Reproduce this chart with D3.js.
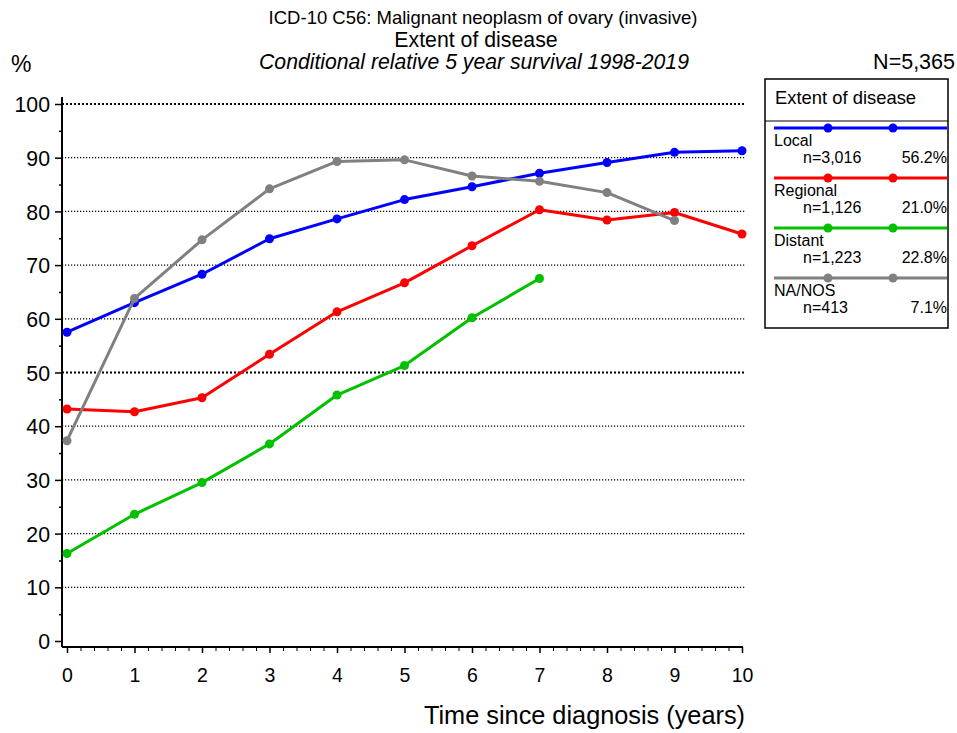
<!DOCTYPE html>
<html>
<head>
<meta charset="utf-8">
<script src="https://cdn.jsdelivr.net/npm/d3@7"></script>
<style>
  html, body { margin: 0; padding: 0; background: #fff; }
  svg { display: block; font-family: "Liberation Sans", Arial, sans-serif; }
</style>
</head>
<body>
<svg id="chart" width="957" height="733"></svg>
<script>
// Conditional relative 5-year survival by extent of disease
const years = [0, 1, 2, 3, 4, 5, 6, 7, 8, 9, 10];
const seriesNames = ["Local", "Regional", "Distant", "NA/NOS"];
const seriesColors = ["#0000ff", "#ff0000", "#00c000", "#808080"];
const localValues    = [57.5, 63.0, 68.3, 74.9, 78.6, 82.2, 84.6, 87.1, 89.1, 91.0, 91.3];
const regionalValues = [43.2, 42.7, 45.3, 53.4, 61.3, 66.7, 73.6, 80.3, 78.4, 79.8, 75.8];
const distantValues  = [16.3, 23.6, 29.5, 36.7, 45.8, 51.3, 60.2, 67.5];
const nanosValues    = [37.3, 63.8, 74.7, 84.2, 89.3, 89.6, 86.6, 85.6, 83.5, 78.3];
const seriesCounts   = ["n=3,016", "n=1,126", "n=1,223", "n=413"];
const seriesShares   = ["56.2%", "21.0%", "22.8%", "7.1%"];
const yTicks = [0, 10, 20, 30, 40, 50, 60, 70, 80, 90, 100];
const xTicks = [0, 1, 2, 3, 4, 5, 6, 7, 8, 9, 10];

const seriesValues = [localValues, regionalValues, distantValues, nanosValues];

const svg = d3.select("#chart");
const x = d3.scaleLinear().domain([0, 10]).range([67, 742]);
const y = d3.scaleLinear().domain([0, 100]).range([641, 104]);
const axisX = 62, axisY = 647;

// Titles
svg.append("text").attr("x", 483).attr("y", 24).attr("text-anchor", "middle")
  .attr("font-size", 18.5).text("ICD-10 C56: Malignant neoplasm of ovary (invasive)");
svg.append("text").attr("x", 476).attr("y", 47).attr("text-anchor", "middle")
  .attr("font-size", 21.3).text("Extent of disease");
svg.append("text").attr("x", 474).attr("y", 69).attr("text-anchor", "middle")
  .attr("font-size", 21.2).attr("font-style", "italic")
  .text("Conditional relative 5 year survival 1998-2019");
svg.append("text").attr("x", 11).attr("y", 72).attr("font-size", 23).text("%");
svg.append("text").attr("x", 955).attr("y", 69).attr("text-anchor", "end")
  .attr("font-size", 21.5).text("N=5,365");

// Horizontal dotted gridlines
svg.append("g").selectAll("line").data(yTicks.filter(d => d > 0)).join("line")
  .attr("x1", axisX).attr("x2", 745)
  .attr("y1", d => y(d)).attr("y2", d => y(d))
  .attr("stroke", "#000")
  .attr("stroke-width", d => d % 50 === 0 ? 2 : 1.2)
  .attr("stroke-dasharray", d => d % 50 === 0 ? "2,2" : "1.2,1.8");

// Y axis
const yAxis = d3.axisLeft(y).tickValues(yTicks).tickSize(7).tickPadding(5);
const gy = svg.append("g").attr("transform", `translate(${axisX},0)`).call(yAxis);
gy.select(".domain").remove();
gy.selectAll(".tick text").attr("font-size", 21.3).attr("font-family", "Liberation Sans, Arial, sans-serif").attr("fill", "#000").attr("dy", "0.36em");
gy.selectAll(".tick line").attr("stroke-width", 1.5);
const yMinor = d3.axisLeft(y).tickValues(d3.range(5, 100, 10)).tickSize(3).tickFormat("");
const gym = svg.append("g").attr("transform", `translate(${axisX},0)`).call(yMinor);
gym.select(".domain").remove();
gym.selectAll(".tick line").attr("stroke-width", 1.5);
svg.append("line").attr("x1", axisX).attr("x2", axisX).attr("y1", 97).attr("y2", axisY)
  .attr("stroke", "#000").attr("stroke-width", 2);

// X axis
const xAxis = d3.axisBottom(x).tickValues(xTicks).tickSize(6).tickPadding(15);
const gx = svg.append("g").attr("transform", `translate(0,${axisY})`).call(xAxis);
gx.select(".domain").remove();
gx.selectAll(".tick text").attr("font-size", 19.5).attr("font-family", "Liberation Sans, Arial, sans-serif").attr("fill", "#000");
gx.selectAll(".tick line").attr("stroke-width", 1.5);
const xMinor = d3.axisBottom(x).tickValues(d3.range(0, 50).map(i => i * 0.2).filter(v => Math.abs(v - Math.round(v)) > 1e-6)).tickSize(4).tickFormat("");
const gxm = svg.append("g").attr("transform", `translate(0,${axisY})`).call(xMinor);
gxm.select(".domain").remove();
gxm.selectAll(".tick line").attr("stroke-width", 1);
svg.append("line").attr("x1", axisX).attr("x2", 743).attr("y1", axisY).attr("y2", axisY)
  .attr("stroke", "#000").attr("stroke-width", 2);

svg.append("text").attr("x", 745).attr("y", 724).attr("text-anchor", "end")
  .attr("font-size", 25.3).text("Time since diagnosis (years)");

// Series lines and markers
const line = d3.line().x((d, i) => x(years[i])).y(d => y(d));
seriesValues.forEach((vals, s) => {
  const g = svg.append("g");
  g.append("path").datum(vals).attr("d", line)
    .attr("fill", "none").attr("stroke", seriesColors[s]).attr("stroke-width", 3)
    .attr("stroke-linejoin", "round");
  g.selectAll("circle").data(vals).join("circle")
    .attr("cx", (d, i) => x(years[i])).attr("cy", d => y(d)).attr("r", 4.5)
    .attr("fill", seriesColors[s]);
});

// Legend
const lg = svg.append("g");
lg.append("rect").attr("x", 765).attr("y", 79).attr("width", 183).attr("height", 249)
  .attr("fill", "#fff").attr("stroke", "#000").attr("stroke-width", 1.5);
lg.append("line").attr("x1", 765).attr("x2", 948).attr("y1", 121).attr("y2", 121)
  .attr("stroke", "#000").attr("stroke-width", 1);
lg.append("text").attr("x", 775).attr("y", 104).attr("font-size", 18.4).text("Extent of disease");
seriesNames.forEach((name, s) => {
  const base = 128 + s * 50;
  lg.append("line").attr("x1", 774).attr("x2", 947).attr("y1", base).attr("y2", base)
    .attr("stroke", seriesColors[s]).attr("stroke-width", 3);
  [828, 893].forEach(cx => lg.append("circle").attr("cx", cx).attr("cy", base).attr("r", 4.5).attr("fill", seriesColors[s]));
  lg.append("text").attr("x", 774).attr("y", base + 18).attr("font-size", 16).text(name);
  lg.append("text").attr("x", 803).attr("y", base + 35).attr("font-size", 16).text(seriesCounts[s]);
  lg.append("text").attr("x", 947).attr("y", base + 35).attr("text-anchor", "end").attr("font-size", 16).text(seriesShares[s]);
});
</script>
</body>
</html>
